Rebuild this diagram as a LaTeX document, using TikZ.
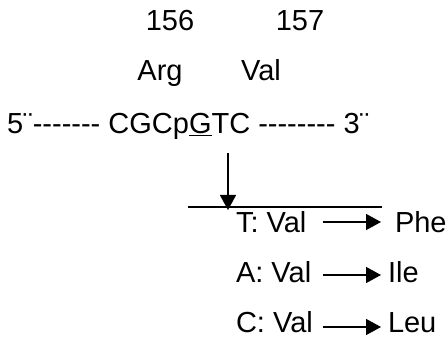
\documentclass[tikz,border=0pt]{standalone}
\usepackage{fontspec}
\setmainfont{Liberation Sans}[Ligatures=TeXOff]
\usetikzlibrary{arrows.meta}
\tikzset{
  txt/.style={inner sep=0pt, outer sep=0pt, font=\fontsize{29}{34}\selectfont},
  conn/.style={line width=1.6pt, -{Triangle[length=15pt,width=16pt]}},
  bar/.style={line width=1.6pt}
}
\begin{document}
\begin{tikzpicture}[x=1pt,y=-1pt]
\useasboundingbox (0,0) rectangle (448,337);
\node[txt, anchor=base] (n156) at (170,31) {156};
\node[txt, anchor=base] (n157) at (300,31) {157};
\node[txt, anchor=base] (arg) at (160,81) {Arg};
\node[txt, anchor=base] (val) at (261,81) {Val};
\node[txt, anchor=base west] (left) at (7,134) {5¨------- CGCp};
\node[txt, anchor=base west] (g) at (left.base east) {\underline{G}};
\node[txt, anchor=base west] (right) at (g.base east) {TC -------- 3¨};
\coordinate (top) at (228,153);
\coordinate (tip) at (228,210);
\coordinate (hl) at (188,207);
\coordinate (hr) at (382,207);
\draw[bar] (hl) -- (hr);
\draw[conn] (top) -- (tip);
\node[txt, anchor=base west] (t) at (236,233) {T: Val};
\node[txt, anchor=base west] (a) at (236,283) {A: Val};
\node[txt, anchor=base west] (c) at (236,332) {C: Val};
\node[txt, anchor=base west] (phe) at (395,233) {Phe};
\node[txt, anchor=base west] (ile) at (388,283) {Ile};
\node[txt, anchor=base west] (leu) at (388,332) {Leu};
\coordinate (ts) at (323,222);
\coordinate (te) at (381,222);
\coordinate (as) at (323,275);
\coordinate (ae) at (381,275);
\coordinate (cs) at (323,327);
\coordinate (ce) at (381,327);
\draw[conn] (ts) -- (te);
\draw[conn] (as) -- (ae);
\draw[conn] (cs) -- (ce);
\end{tikzpicture}
\end{document}
